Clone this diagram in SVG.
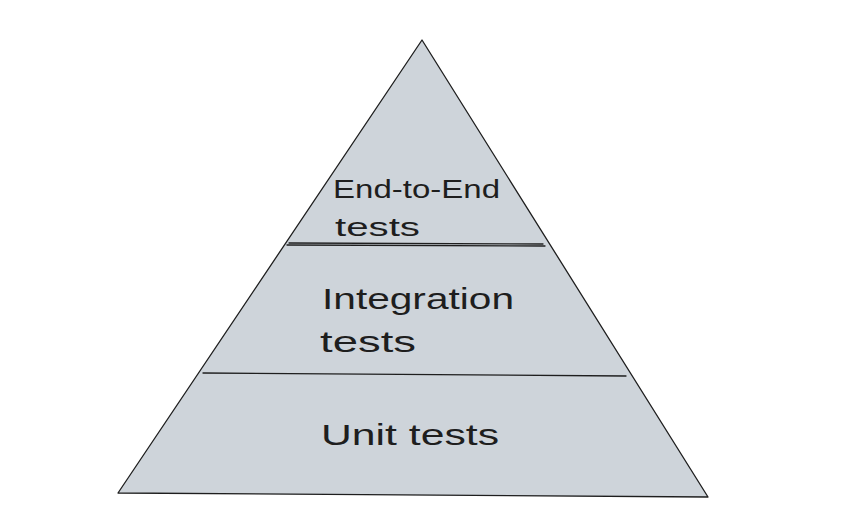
<svg xmlns="http://www.w3.org/2000/svg" width="846" height="532" viewBox="0 0 846 532">
<style>
.s{stroke:#1e1e1e;stroke-width:1.3;fill:none;stroke-linecap:round}
.t{font-family:"Liberation Sans",sans-serif;fill:#1e1e1e}
</style>
<rect width="846" height="532" fill="#ffffff"/>
<g id="pyramid">
<polygon points="422,40 118,493 708,497" fill="#ced4da" stroke="#1e1e1e" stroke-width="1.3" stroke-linejoin="round"/>
</g>
<g id="connectors">
<path class="s" d="M287,245 L545,246"/>
<path class="s" d="M289,243 L543,244" stroke-width="0.8"/>
<path class="s" d="M203,373 L626,376"/>
</g>
<g id="e2e"><text class="t" font-size="25" x="333" y="198" textLength="167" lengthAdjust="spacingAndGlyphs">End-to-End</text><text class="t" font-size="25" x="335" y="236" textLength="85" lengthAdjust="spacingAndGlyphs">tests</text></g>
<g id="integration"><text class="t" font-size="29" x="322" y="309" textLength="192" lengthAdjust="spacingAndGlyphs">Integration</text><text class="t" font-size="29" x="320" y="352" textLength="96" lengthAdjust="spacingAndGlyphs">tests</text></g>
<g id="unit"><text class="t" font-size="29" x="321" y="445" textLength="178" lengthAdjust="spacingAndGlyphs">Unit tests</text></g>
</svg>
